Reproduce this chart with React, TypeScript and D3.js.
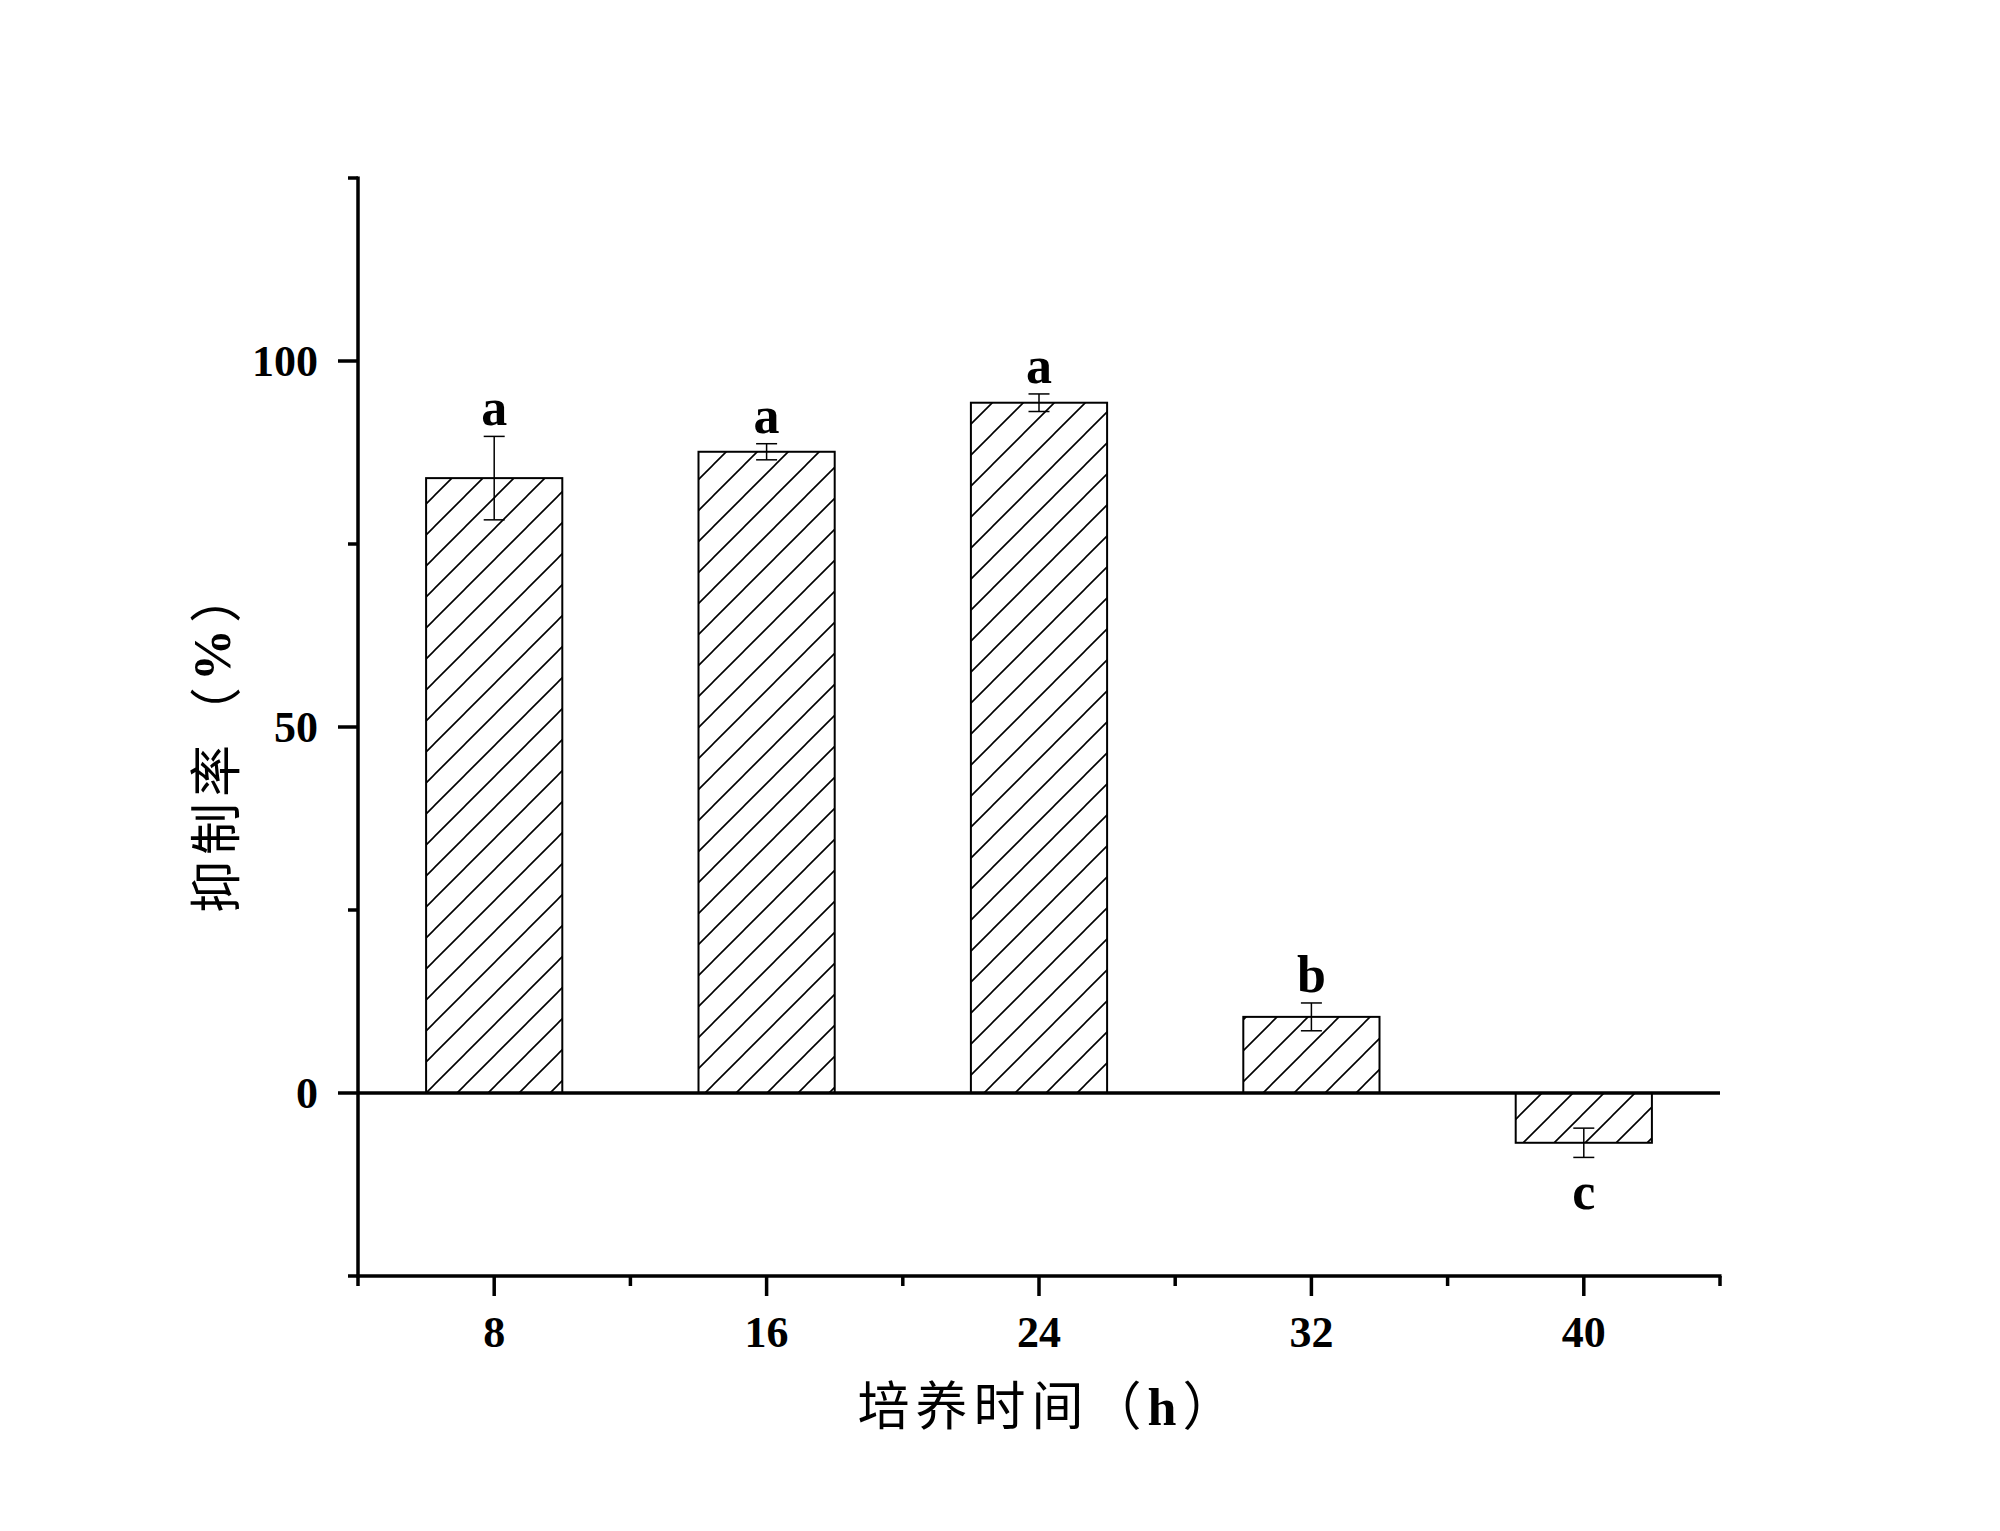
import React from "react";
import * as d3 from "d3";

const hours = [8, 16, 24, 32, 40];
const values = [84.0, 87.6, 94.3, 10.4, -6.8];
const errors = [5.7, 1.1, 1.2, 1.9, 2.0];
const letters = ["a", "a", "a", "b", "c"];
const yMajorTicks = [0, 50, 100];
const yMinorTicks = [-25, 25, 75, 125];
const xMajorTicks = [8, 16, 24, 32, 40];
const xMinorTicks = [4, 12, 20, 28, 36, 44];

const W = 2000;
const H = 1531;

export default function App() {
  const x = d3.scaleLinear().domain([4, 44]).range([358, 1720]);
  const y = d3.scaleLinear().domain([-25, 125]).range([1276, 178]);
  const serif = "'Liberation Serif', 'Times New Roman', serif";
  const cjk = "'Noto Sans CJK SC', sans-serif";
  const barHalf = 2;
  const axisW = 3.5;

  return (
    <svg
      width={W}
      height={H}
      viewBox={`0 0 ${W} ${H}`}
      style={{ position: "absolute", left: 0, top: 0, background: "#fff" }}
    >
      <defs>
        <pattern id="hatch" patternUnits="userSpaceOnUse" width={31} height={31}>
          <path
            d="M0,31 L31,0 M-8,8 L8,-8 M23,39 L39,23"
            stroke="#000"
            strokeWidth={1.6}
            fill="none"
          />
        </pattern>
      </defs>
      <rect x={0} y={0} width={W} height={H} fill="#fff" />

      {/* bars */}
      {hours.map((h, i) => {
        const x0 = x(h - barHalf);
        const x1 = x(h + barHalf);
        const yTop = y(Math.max(0, values[i]));
        const yBot = y(Math.min(0, values[i]));
        return (
          <rect
            key={"bar" + h}
            x={x0}
            y={yTop}
            width={x1 - x0}
            height={yBot - yTop}
            fill="url(#hatch)"
            stroke="#000"
            strokeWidth={2}
          />
        );
      })}

      {/* error bars */}
      {hours.map((h, i) => {
        const cx = x(h);
        const yHi = y(values[i] + errors[i]);
        const yLo = y(values[i] - errors[i]);
        return (
          <g key={"err" + h} stroke="#000" strokeWidth={1.5}>
            <line x1={cx} x2={cx} y1={yHi} y2={yLo} />
            <line x1={cx - 10.5} x2={cx + 10.5} y1={yHi} y2={yHi} />
            <line x1={cx - 10.5} x2={cx + 10.5} y1={yLo} y2={yLo} />
          </g>
        );
      })}

      {/* significance letters */}
      {hours.map((h, i) => {
        const cx = x(h);
        const pos = values[i] >= 0;
        const ly = pos ? y(values[i] + errors[i]) - 11 : y(values[i] - errors[i]) + 52;
        return (
          <text
            key={"lt" + h}
            x={cx}
            y={ly}
            textAnchor="middle"
            fontFamily={serif}
            fontWeight="bold"
            fontSize={52}
            fill="#000"
          >
            {letters[i]}
          </text>
        );
      })}

      {/* zero line */}
      <line x1={x(4)} x2={x(44)} y1={y(0)} y2={y(0)} stroke="#000" strokeWidth={axisW} />

      {/* axes */}
      <line x1={x(4)} x2={x(4)} y1={y(125) - 1.5} y2={y(-25) + 1.5} stroke="#000" strokeWidth={axisW} />
      <line x1={x(4) - 1.5} x2={x(44) + 1.5} y1={y(-25)} y2={y(-25)} stroke="#000" strokeWidth={axisW} />

      {/* y ticks */}
      {yMajorTicks.map((t) => (
        <g key={"ym" + t}>
          <line x1={x(4) - 20} x2={x(4)} y1={y(t)} y2={y(t)} stroke="#000" strokeWidth={axisW} />
          <text
            x={x(4) - 40}
            y={y(t) + 15}
            textAnchor="end"
            fontFamily={serif}
            fontWeight="bold"
            fontSize={44}
            fill="#000"
          >
            {t}
          </text>
        </g>
      ))}
      {yMinorTicks.map((t) => (
        <line key={"yn" + t} x1={x(4) - 10} x2={x(4)} y1={y(t)} y2={y(t)} stroke="#000" strokeWidth={axisW} />
      ))}

      {/* x ticks */}
      {xMajorTicks.map((t) => (
        <g key={"xm" + t}>
          <line x1={x(t)} x2={x(t)} y1={y(-25)} y2={y(-25) + 20} stroke="#000" strokeWidth={axisW} />
          <text
            x={x(t)}
            y={y(-25) + 71}
            textAnchor="middle"
            fontFamily={serif}
            fontWeight="bold"
            fontSize={44}
            fill="#000"
          >
            {t}
          </text>
        </g>
      ))}
      {xMinorTicks.map((t) => (
        <line key={"xn" + t} x1={x(t)} x2={x(t)} y1={y(-25)} y2={y(-25) + 10} stroke="#000" strokeWidth={axisW} />
      ))}

      {/* axis titles */}
      <text
        x={1049}
        y={1425}
        textAnchor="middle"
        fontFamily={cjk}
        fontSize={52}
        letterSpacing={6}
        fill="#000"
      >
        培养时间（<tspan fontFamily={serif} fontWeight="bold">h</tspan>）
      </text>
      <text
        transform={`translate(212, 739) rotate(-90)`}
        textAnchor="middle"
        dominantBaseline="central"
        fontFamily={cjk}
        fontSize={52}
        letterSpacing={6}
        fill="#000"
      >
        抑制率（<tspan fontFamily={serif} fontWeight="bold">%</tspan>）
      </text>
    </svg>
  );
}
